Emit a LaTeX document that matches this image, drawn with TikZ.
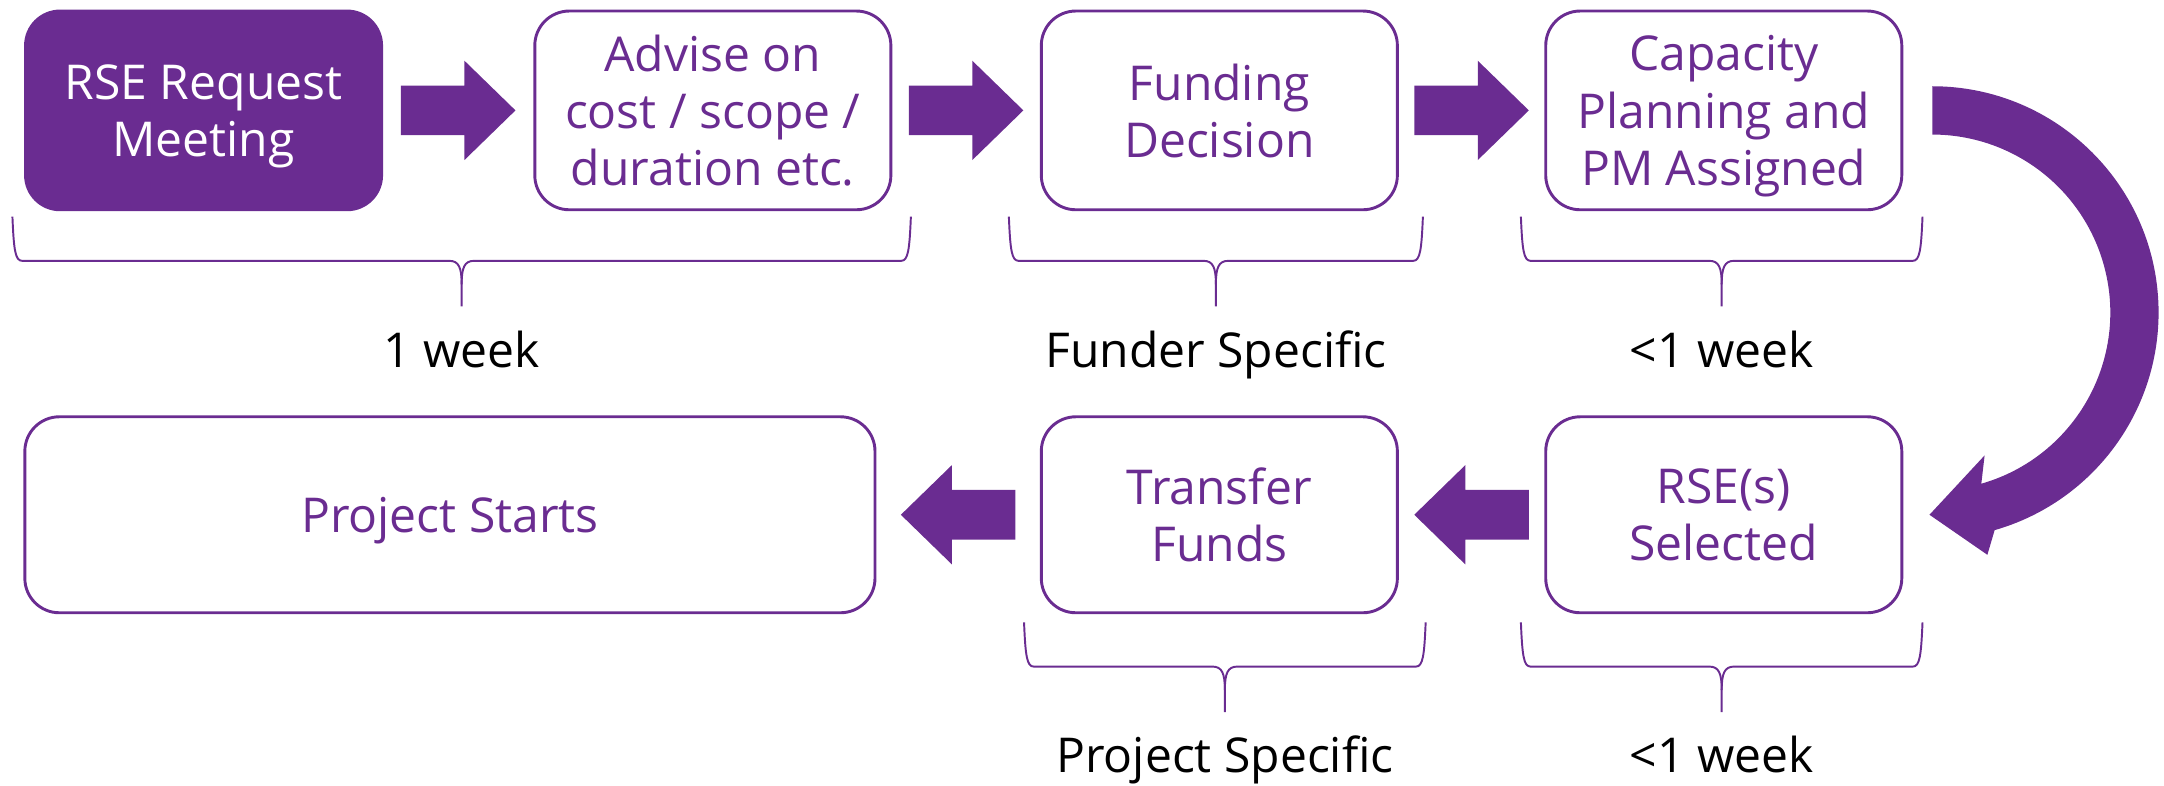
\documentclass[tikz,border=0pt]{standalone}
\usepackage{fontspec}
\setmainfont{Open Sans}
\definecolor{cPurple}{HTML}{6A2C91}
\usetikzlibrary{shapes}
\usetikzlibrary{calc}

\tikzset{
	stagebox/.style={draw=cPurple, line width=0.6pt, rounded corners=0.25cm, minimum width=2.58cm, minimum height=1.44cm, align=center, text=cPurple, inner sep=0pt, text depth=0pt, font=\fontsize{9.9}{11.8}\selectfont},
	startbox/.style={stagebox, fill=cPurple, text=white},
	braceline/.style={draw=cPurple, line width=0.4pt},
	timelabel/.style={anchor=base, font=\fontsize{9.9}{11.8}\selectfont},
	pics/fatarrow/.style={code={\fill[cPurple] (-0.415,-0.18) -- (0.045,-0.18) -- (0.045,-0.36) -- (0.415,0) -- (0.045,0.36) -- (0.045,0.18) -- (-0.415,0.18) -- cycle;}}
}

% brace under a step: x left, x right, y top, label, name
\newcommand{\durbrace}[5]{%
	\pgfmathsetmacro{\brMid}{(#1+#2)/2}
	\pgfmathsetmacro{\brBar}{#3-0.32}
	\draw[braceline] (#1,#3) .. controls (#1+0.01,\brBar+0.08) and (#1+0.02,\brBar) .. (#1+0.07,\brBar) -- (\brMid-0.09,\brBar) .. controls (\brMid-0.02,\brBar) and (\brMid,\brBar-0.05) .. (\brMid,\brBar-0.17) -- (\brMid,\brBar-0.33);
	\draw[braceline] (#2,#3) .. controls (#2-0.01,\brBar+0.08) and (#2-0.02,\brBar) .. (#2-0.07,\brBar) -- (\brMid+0.09,\brBar) .. controls (\brMid+0.02,\brBar) and (\brMid,\brBar-0.05) .. (\brMid,\brBar-0.17);
	\node[timelabel] (#5) at (\brMid,\brBar-0.77) {#4};
}

\begin{document}
\begin{tikzpicture}
		\useasboundingbox (0,0) rectangle (15.68,5.69);
		% top row
		\node[startbox] (request) at (1.475,4.89) {RSE Request\\Meeting};
		\node[stagebox] (advise) at (5.165,4.89) {Advise on\\cost / scope /\\duration etc.};
		\node[stagebox] (funding) at (8.835,4.89) {Funding\\Decision};
		\node[stagebox] (capacity) at (12.49,4.89) {Capacity\\Planning and\\PM Assigned};
		% bottom row
		\node[stagebox, minimum height=1.42cm] (selected) at (12.49,1.96) {RSE(s)\\Selected};
		\node[stagebox, minimum height=1.42cm] (transfer) at (8.835,1.96) {Transfer\\Funds};
		\node[stagebox, minimum height=1.42cm, minimum width=6.16cm] (starts) at (3.26,1.96) {Project Starts};
		% arrows between steps
		\path ($(request.east)!0.5!(advise.west)$) pic {fatarrow};
		\path ($(advise.east)!0.5!(funding.west)$) pic {fatarrow};
		\path ($(funding.east)!0.5!(capacity.west)$) pic {fatarrow};
		\path ($(selected.west)!0.5!(transfer.east)$) pic[rotate=180] {fatarrow};
		\path ($(transfer.west)!0.5!(starts.east)$) pic[rotate=180] {fatarrow};
		% turn from capacity to selected
		\coordinate (bend) at ($(capacity.east)+(0.21,-1.465)$);
		\fill[cPurple] (bend) ++(90:1.64) arc[start angle=90, end angle=-74, radius=1.64] -- (14.40,1.67) -- ($(selected.east)+(0.19,0)$) -- (14.38,2.39) -- ($(bend)+(-74:1.29)$) arc[start angle=-74, end angle=90, radius=1.29] -- cycle;
		% durations
		\durbrace{0.09}{6.60}{4.12}{1 week}{tweek}
		\durbrace{7.31}{10.31}{4.12}{Funder Specific}{tfunder}
		\durbrace{11.02}{13.93}{4.12}{<1 week}{tplan}
		\durbrace{7.42}{10.33}{1.18}{Project Specific}{tproject}
		\durbrace{11.02}{13.93}{1.18}{<1 week}{tselect}
\end{tikzpicture}
\end{document}
